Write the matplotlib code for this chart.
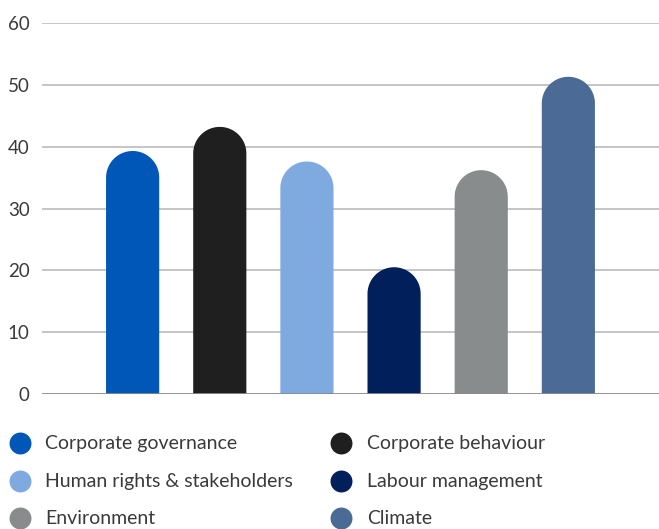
import numpy as np
import matplotlib.pyplot as plt
from matplotlib.patches import PathPatch
from matplotlib.path import Path
from matplotlib.lines import Line2D

# data
categories = ['Corporate governance', 'Corporate behaviour', 'Human rights & stakeholders',
              'Labour management', 'Environment', 'Climate']
values = [39.3, 43.2, 37.6, 20.5, 36.2, 51.3]
colors = ['#0057b8', '#1f1f1f', '#7faae0', '#001f5b', '#898c8c', '#4c6a96']
yticks = [0, 10, 20, 30, 40, 50, 60]

plt.rcParams['font.family'] = ['Lato', 'DejaVu Sans']

W, H = 659, 529
fig = plt.figure(figsize=(W / 100, H / 100), dpi=100)
ax_left, ax_right, ax_top, ax_bottom = 42, 659, 23, 394
ax = fig.add_axes([ax_left / W, (H - ax_bottom) / H, (ax_right - ax_left) / W, (ax_bottom - ax_top) / H])

xmin, xmax = -1.04, 6.04
ax.set_xlim(xmin, xmax)
ax.set_ylim(0, 60)

bar_w = 0.61
# radius of rounded top in data units (half bar width in pixels)
px_per_x = (ax_right - ax_left) / (xmax - xmin)
px_per_y = (ax_bottom - ax_top) / 60
r_px = bar_w * px_per_x / 2
ry = r_px / px_per_y
rx = bar_w / 2


def rounded_bar(xc, v):
    t = np.linspace(0, np.pi, 60)
    top = v - ry
    pts = [(xc + rx, 0), (xc + rx, top)]
    pts += [(xc + rx * np.cos(a), top + ry * np.sin(a)) for a in t[1:-1]]
    pts += [(xc - rx, top), (xc - rx, 0), (xc + rx, 0)]
    codes = [Path.MOVETO] + [Path.LINETO] * (len(pts) - 2) + [Path.CLOSEPOLY]
    return Path(pts, codes)


for xi, v, c in zip(range(len(values)), values, colors):
    ax.add_patch(PathPatch(rounded_bar(xi, v), facecolor=c, edgecolor='none', zorder=3))

# grid
for t in yticks[1:]:
    ax.axhline(t, color='#c0c0c0', lw=1.3, zorder=1)
ax.axhline(0, color='#8a8a8a', lw=2, zorder=4)

ax.set_yticks(yticks)
ax.set_yticklabels([str(t) for t in yticks], fontsize=13.5, color='#3a3a3a')
ax.tick_params(axis='y', length=0, pad=9)
ax.set_xticks([])
for s in ax.spines.values():
    s.set_visible(False)

# legend, drawn by hand
rows_y = [443, 481, 518]
cols = [(19.5, 45), (340.5, 367)]
for i, (lab, c) in enumerate(zip(categories, colors)):
    row, col = divmod(i, 2)
    mx, tx = cols[col]
    yy = 1 - rows_y[row] / H
    fig.add_artist(Line2D([mx / W], [yy], marker='o', markersize=15.8, color=c,
                          markeredgewidth=0, linestyle='none', transform=fig.transFigure))
    fig.text(tx / W, yy, lab, fontsize=14, color='#3a3a3a', va='center', ha='left')

fig.savefig('out.png', dpi=100)
